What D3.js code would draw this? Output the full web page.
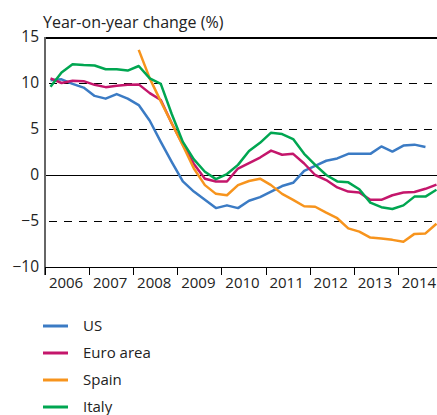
<!DOCTYPE html>
<meta charset="utf-8">
<style>
  body { margin: 0; background: #fff; }
  text { font-family: "Open Sans", sans-serif; fill: #222; }
  .series { fill: none; stroke-width: 2.5px; stroke-linejoin: round; }
  .crisp { shape-rendering: crispEdges; }
</style>
<body>
<svg width="437" height="415"></svg>
<script src="https://d3js.org/d3.v7.min.js"></script>
<script>
// quarterly data, first point = 2006 Q1
const startYear = 2006;
const years = [2006, 2007, 2008, 2009, 2010, 2011, 2012, 2013, 2014];
const yTicks = [15, 10, 5, 0, -5, -10];

const us = [10.3, 10.4, 9.9, 9.5, 8.6, 8.3, 8.8, 8.3, 7.6, 5.9, 3.6, 1.4,
  -0.7, -1.8, -2.7, -3.6, -3.3, -3.6, -2.8, -2.4, -1.8, -1.2, -0.85, 0.45,
  1.0, 1.55, 1.8, 2.3, 2.3, 2.3, 3.1, 2.55, 3.2, 3.3, 3.05];
const euro = [10.5, 10.0, 10.25, 10.2, 9.8, 9.55, 9.7, 9.8, 9.85, 8.9, 8.15, 5.6,
  3.3, 1.2, -0.4, -0.7, -0.7, 0.7, 1.3, 1.9, 2.65, 2.2, 2.3, 1.25,
  0, -0.55, -1.35, -1.8, -1.9, -2.7, -2.7, -2.2, -1.9, -1.85, -1.5, -1.05];
const spain = [null, null, null, null, null, null, null, null, 13.6, 10.5, 8.0, 5.6,
  3.2, 0.7, -1.1, -2.05, -2.2, -1.1, -0.65, -0.4, -1.1, -2.05, -2.7, -3.4,
  -3.45, -4.1, -4.7, -5.8, -6.15, -6.8, -6.9, -7.05, -7.25, -6.4, -6.35, -5.3];
const italy = [9.6, 11.15, 12.05, 11.95, 11.9, 11.5, 11.5, 11.35, 11.85, 10.5, 9.9, 6.6,
  3.6, 1.7, 0.35, -0.45, 0.1, 1.1, 2.6, 3.5, 4.6, 4.45, 3.9, 2.3,
  1.1, 0, -0.7, -0.8, -1.55, -3.0, -3.5, -3.7, -3.3, -2.35, -2.35, -1.6];

const series = [
  { name: 'US', values: us, color: '#3b7bc4' },
  { name: 'Euro area', values: euro, color: '#c4166b' },
  { name: 'Spain', values: spain, color: '#f7941d' },
  { name: 'Italy', values: italy, color: '#00a651' }
];

const svg = d3.select('svg');

const x = d3.scaleLinear().domain([2006, 2015]).range([45, 442]);
const y = d3.scaleLinear().domain([-10, 15]).range([267, 37]);

// dashed gridlines
svg.append('g')
  .attr('class', 'crisp')
  .selectAll('line')
  .data(yTicks.filter(d => d !== 0 && d !== 15 && d !== -10))
  .enter().append('line')
  .attr('x1', 49).attr('x2', 437)
  .attr('y1', d => y(d) + 0.5).attr('y2', d => y(d) + 0.5)
  .attr('stroke', '#000')
  .attr('stroke-width', 1)
  .attr('stroke-dasharray', '8,7');

// zero line and top border
svg.append('g')
  .attr('class', 'crisp')
  .selectAll('line')
  .data([0, 15])
  .enter().append('line')
  .attr('x1', 45).attr('x2', 437)
  .attr('y1', d => y(d) + 0.5).attr('y2', d => y(d) + 0.5)
  .attr('stroke', '#000')
  .attr('stroke-width', d => d === 15 ? 2 : 1);

// y labels
const yAxis = svg.append('g')
  .attr('transform', 'translate(39,0)')
  .call(d3.axisLeft(y).tickValues(yTicks).tickSize(0).tickPadding(0));
yAxis.select('.domain').remove();
yAxis.selectAll('text')
  .attr('font-family', '"Open Sans", sans-serif')
  .attr('font-size', 15.5)
  .attr('fill', '#222');

// left axis line
svg.append('line')
  .attr('class', 'crisp')
  .attr('x1', 45).attr('x2', 45)
  .attr('y1', y(15)).attr('y2', y(-10) + 8)
  .attr('stroke', '#666')
  .attr('stroke-width', 2);

// x axis
const xAxis = svg.append('g')
  .attr('class', 'crisp')
  .attr('transform', `translate(0,${y(-10)})`)
  .call(d3.axisBottom(x).tickValues(years.concat([2015])).tickSize(8).tickFormat(''));
xAxis.select('.domain').attr('stroke', '#000').attr('stroke-width', 1.5);
xAxis.selectAll('.tick line').attr('stroke', '#000').attr('stroke-width', 1);

svg.append('g')
  .selectAll('text')
  .data(years)
  .enter().append('text')
  .attr('x', d => x(d + 0.5) - 1)
  .attr('y', 288)
  .attr('text-anchor', 'middle')
  .attr('font-size', 15)
  .text(d => d);

// title
svg.append('text')
  .attr('x', 43)
  .attr('y', 28)
  .attr('font-size', 16)
  .text('Year-on-year change (%)');

// series lines
const line = d3.line()
  .defined(d => d != null)
  .x((d, i) => x(startYear + (i + 0.5) / 4))
  .y(d => y(d));

svg.append('g')
  .selectAll('path')
  .data(series)
  .enter().append('path')
  .attr('class', 'series')
  .attr('stroke', d => d.color)
  .attr('d', d => line(d.values));

// legend
const legend = svg.append('g')
  .selectAll('g')
  .data(series)
  .enter().append('g')
  .attr('transform', (d, i) => `translate(43,${326 + i * 27})`);

legend.append('line')
  .attr('x1', 0).attr('x2', 25)
  .attr('stroke', d => d.color)
  .attr('stroke-width', 3);

legend.append('text')
  .attr('x', 40)
  .attr('y', 5)
  .attr('font-size', 15)
  .text(d => d.name);
</script>
</body>
